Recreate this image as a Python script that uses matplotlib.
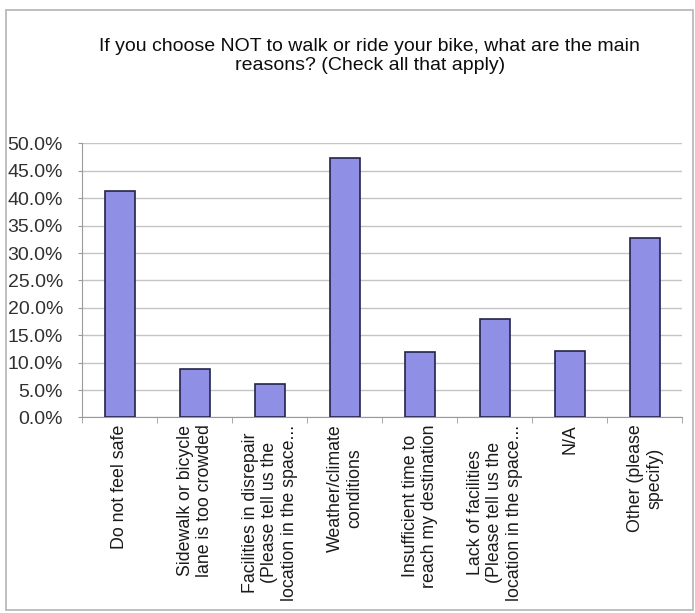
import numpy as np
import matplotlib.pyplot as plt
from matplotlib.ticker import FuncFormatter, FixedLocator
from matplotlib.patches import Rectangle

plt.rcParams['font.family'] = ['Liberation Sans', 'DejaVu Sans']

# survey answers and share of respondents
reasons = [
    "Do not feel safe",
    "Sidewalk or bicycle\nlane is too crowded",
    "Facilities in disrepair\n(Please tell us the\nlocation in the space...",
    "Weather/climate\nconditions",
    "Insufficient time to\nreach my destination",
    "Lack of facilities\n(Please tell us the\nlocation in the space...",
    "N/A",
    "Other (please\nspecify)",
]
shares = [0.413, 0.089, 0.061, 0.474, 0.120, 0.179, 0.121, 0.328]
title = ("If you choose NOT to walk or ride your bike, what are the main\n"
         "reasons? (Check all that apply)")

fig = plt.figure(figsize=(6.95, 6.13), dpi=100)
ax = fig.add_axes([0.1187, 0.319, 0.8633, 0.447])

x = np.arange(len(reasons))
ax.bar(x, shares, width=0.41, color='#8f8fe6', edgecolor='#24244a',
       linewidth=1.2, zorder=3)

ax.set_xlim(-0.5, len(reasons) - 0.5)
ax.set_ylim(0, 0.5)
ax.set_yticks(np.arange(0, 0.501, 0.05))
ax.yaxis.set_major_formatter(FuncFormatter(lambda v, _: '{:.1f}%'.format(v * 100)))
ax.grid(axis='y', color='#c4c4c4', linewidth=1.0, zorder=0)

# category labels on the major ticks, tick marks on the boundaries
ax.set_xticks(x)
ax.set_xticklabels(reasons, rotation=90, ha='center', va='top',
                   multialignment='center', fontsize=12.8, linespacing=1.2,
                   color='#1a1a1a')
ax.xaxis.set_minor_locator(FixedLocator(np.arange(-0.5, len(reasons), 1.0)))
ax.tick_params(axis='x', which='major', length=0, pad=5)
ax.tick_params(axis='x', which='minor', length=4, color='#9a9a9a')
ax.tick_params(axis='y', length=3, color='#9a9a9a', pad=11, labelsize=14,
               labelcolor='#303030')

for side in ('top', 'right'):
    ax.spines[side].set_visible(False)
for side in ('left', 'bottom'):
    ax.spines[side].set_color('#9a9a9a')

fig.text(0.532, 1 - 56 / 613, title, ha='center', va='center',
         fontsize=14, linespacing=1.15, color='#0d0d0d')

# chart area border
fig.patches.append(Rectangle((6 / 695, 3 / 613), 687 / 695, 600 / 613,
                             transform=fig.transFigure, fill=False,
                             edgecolor='#b4b4b4', linewidth=1.2))

fig.savefig('out.png', dpi=100)
